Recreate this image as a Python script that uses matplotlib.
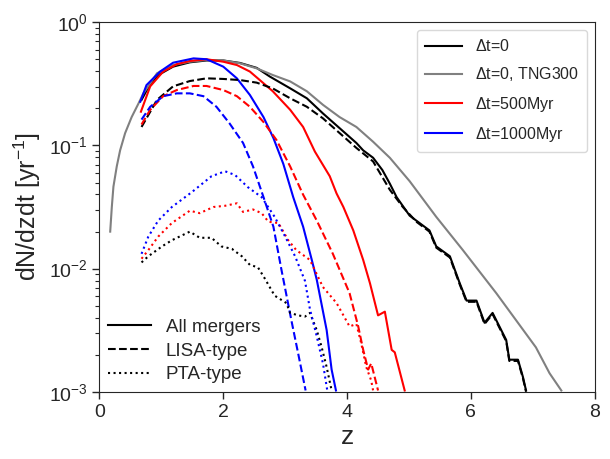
import matplotlib
matplotlib.use("Agg")
import matplotlib.pyplot as plt
import numpy as np
from matplotlib.lines import Line2D

plt.rcParams['font.family'] = ['Liberation Sans', 'DejaVu Sans']
plt.rcParams['mathtext.fontset'] = 'custom'
plt.rcParams['mathtext.rm'] = 'Liberation Sans'
plt.rcParams['mathtext.it'] = 'Liberation Sans:italic'
plt.rcParams['text.color'] = '.15'
plt.rcParams['axes.labelcolor'] = '.15'
plt.rcParams['xtick.color'] = '.15'
plt.rcParams['ytick.color'] = '.15'
plt.rcParams['axes.edgecolor'] = '.15'

# ---- data: (z, log10 dN/dzdt) ----
gray_z = [0.174, 0.20, 0.226, 0.28, 0.334, 0.415, 0.52, 0.63, 0.71, 0.93, 1.19, 1.46, 1.73, 2.0, 2.27,
          2.54, 2.80, 3.08, 3.35, 3.61, 3.88, 4.15, 4.42, 4.69, 5.01, 5.44, 5.87, 6.41, 6.73, 7.05,
          7.27, 7.46]
gray_l = [-1.70, -1.50, -1.335, -1.17, -1.04, -0.90, -0.77, -0.66, -0.577, -0.414, -0.347, -0.32,
          -0.306, -0.31, -0.333, -0.374, -0.428, -0.48, -0.56, -0.67, -0.77, -0.85, -0.97, -1.10,
          -1.29, -1.58, -1.85, -2.20, -2.42, -2.64, -2.85, -2.99]

k_all_z = [0.68, 0.82, 0.98, 1.19, 1.46, 1.73, 2.0, 2.27, 2.54, 2.75, 3.08, 3.35, 3.61, 3.88, 4.15,
           4.26, 4.42, 4.57, 4.69, 4.80, 5.01, 5.33, 5.44, 5.66, 5.82, 5.93, 6.09, 6.22, 6.35, 6.57,
           6.62, 6.76, 6.84, 6.89]
k_all_l = [-0.63, -0.50, -0.42, -0.36, -0.325, -0.31, -0.31, -0.33, -0.37, -0.44, -0.536, -0.617,
           -0.74, -0.86, -0.98, -1.04, -1.10, -1.20, -1.31, -1.42, -1.57, -1.69, -1.82, -1.90, -2.12,
           -2.26, -2.26, -2.44, -2.36, -2.58, -2.74, -2.74, -2.88, -2.99]

k_lisa_z = [0.68, 0.93, 1.19, 1.46, 1.73, 2.0, 2.27, 2.54, 2.80, 3.08, 3.35, 3.61, 3.88, 4.15, 4.42,
            4.69, 4.90, 5.12, 5.33, 5.44, 5.66, 5.82, 5.93, 6.09, 6.22, 6.35, 6.57, 6.62, 6.76, 6.84, 6.89]
k_lisa_l = [-0.85, -0.63, -0.52, -0.477, -0.455, -0.46, -0.469, -0.49, -0.537, -0.617, -0.686, -0.78,
            -0.90, -1.02, -1.13, -1.36, -1.50, -1.62, -1.70, -1.83, -1.91, -2.13, -2.27, -2.27, -2.45,
            -2.37, -2.59, -2.75, -2.75, -2.89, -3.0]

k_pta_z = [0.68, 0.79, 1.01, 1.17, 1.46, 1.62, 1.81, 1.97, 2.14, 2.30, 2.43, 2.56, 2.67, 2.83, 3.02,
           3.08, 3.21, 3.32, 3.40, 3.51, 3.59, 3.67, 3.75]
k_pta_l = [-1.95, -1.90, -1.82, -1.77, -1.70, -1.75, -1.75, -1.82, -1.84, -1.90, -1.97, -1.99, -2.08,
           -2.22, -2.28, -2.36, -2.38, -2.39, -2.36, -2.50, -2.64, -2.80, -2.99]

r_all_z = [0.67, 0.82, 1.03, 1.25, 1.46, 1.73, 2.0, 2.22, 2.43, 2.59, 2.80, 3.08, 3.29, 3.48, 3.72,
           3.83, 3.94, 4.10, 4.26, 4.37, 4.50, 4.61, 4.72, 4.77, 4.93]
r_all_l = [-0.726, -0.52, -0.40, -0.34, -0.314, -0.30, -0.32, -0.347, -0.40, -0.469, -0.56, -0.71,
           -0.85, -1.05, -1.25, -1.39, -1.50, -1.69, -1.93, -2.12, -2.38, -2.35, -2.66, -2.68, -2.99]

r_lisa_z = [0.68, 0.82, 1.03, 1.25, 1.52, 1.73, 2.0, 2.22, 2.43, 2.65, 2.86, 3.08, 3.29, 3.51, 3.77,
            4.04, 4.18, 4.26, 4.34, 4.39, 4.50]
r_lisa_l = [-0.83, -0.71, -0.60, -0.55, -0.517, -0.517, -0.55, -0.60, -0.686, -0.81, -0.956, -1.17,
            -1.40, -1.61, -1.88, -2.20, -2.47, -2.66, -2.82, -2.77, -2.99]

r_pta_z = [0.68, 0.79, 0.95, 1.17, 1.46, 1.62, 1.84, 2.03, 2.22, 2.32, 2.48, 2.62, 2.73, 2.89, 3.05,
           3.18, 3.40, 3.61, 3.83, 4.04, 4.15, 4.23, 4.31, 4.39, 4.42]
r_pta_l = [-1.92, -1.85, -1.74, -1.63, -1.53, -1.55, -1.50, -1.49, -1.47, -1.54, -1.52, -1.55, -1.62,
           -1.63, -1.77, -1.85, -1.93, -2.15, -2.28, -2.47, -2.45, -2.61, -2.80, -2.91, -2.99]

b_all_z = [0.66, 0.76, 0.98, 1.19, 1.52, 1.73, 2.0, 2.22, 2.43, 2.65, 2.81, 2.97, 3.13, 3.29, 3.43,
           3.51, 3.67, 3.75, 3.82]
b_all_l = [-0.645, -0.51, -0.40, -0.328, -0.293, -0.30, -0.36, -0.455, -0.59, -0.77, -0.94, -1.15,
           -1.42, -1.66, -1.93, -2.09, -2.50, -2.82, -2.99]

b_lisa_z = [0.68, 0.82, 1.03, 1.25, 1.46, 1.68, 1.89, 2.10, 2.32, 2.48, 2.65, 2.81, 2.94, 3.10, 3.21, 3.33]
b_lisa_l = [-0.79, -0.686, -0.60, -0.577, -0.577, -0.60, -0.686, -0.82, -0.98, -1.17, -1.42, -1.66,
            -2.01, -2.42, -2.69, -2.99]

b_pta_z = [0.68, 0.79, 0.95, 1.17, 1.49, 1.81, 2.03, 2.19, 2.40, 2.62, 2.83, 3.0, 3.16, 3.32, 3.40,
           3.51, 3.61, 3.68]
b_pta_l = [-1.88, -1.74, -1.61, -1.50, -1.38, -1.25, -1.21, -1.24, -1.34, -1.42, -1.58, -1.74, -1.90,
           -2.10, -2.33, -2.55, -2.77, -2.99]

fig = plt.figure(figsize=(6.1, 4.59), dpi=100)
ax = fig.add_axes([0.163, 0.1466, 0.812, 0.8048])

lw = 1.5
def pl(z, l, c, ls, label=None):
    ax.plot(z, 10 ** np.array(l), color=c, ls=ls, lw=lw, label=label)

pl(k_all_z, k_all_l, 'black', '-', r'$\Delta$t=0')
pl(gray_z, gray_l, 'gray', '-', r'$\Delta$t=0, TNG300')
pl(r_all_z, r_all_l, 'red', '-', r'$\Delta$t=500Myr')
pl(b_all_z, b_all_l, 'blue', '-', r'$\Delta$t=1000Myr')
pl(k_lisa_z, k_lisa_l, 'black', '--')
pl(r_lisa_z, r_lisa_l, 'red', '--')
pl(b_lisa_z, b_lisa_l, 'blue', '--')
pl(k_pta_z, k_pta_l, 'black', ':')
pl(r_pta_z, r_pta_l, 'red', ':')
pl(b_pta_z, b_pta_l, 'blue', ':')

ax.set_yscale('log')
ax.set_xlim(0, 8)
ax.set_ylim(1e-3, 1)
ax.set_xticks([0, 2, 4, 6, 8])
ax.tick_params(axis='both', which='major', labelsize=14, length=5, width=1, direction='out')
ax.tick_params(axis='both', which='minor', length=3, width=0.8, direction='out')
ax.set_xlabel('z', fontsize=19, labelpad=3)
ax.set_ylabel(r'dN/dzdt [yr$^{-1}$]', fontsize=18)

leg1 = ax.legend(loc='upper right', fontsize=11.5, handlelength=2.3, borderaxespad=0.5,
                 framealpha=1, edgecolor='0.85', labelspacing=0.7, borderpad=0.5)
ax.add_artist(leg1)
handles = [Line2D([], [], color='black', ls='-', lw=lw),
           Line2D([], [], color='black', ls='--', lw=lw),
           Line2D([], [], color='black', ls=':', lw=lw)]
ax.legend(handles, ['All mergers', 'LISA-type', 'PTA-type'], loc='lower left', frameon=False,
          fontsize=13.5, handlelength=2.3, borderaxespad=0.05, labelspacing=0.35)

fig.savefig('out.png', dpi=100)
